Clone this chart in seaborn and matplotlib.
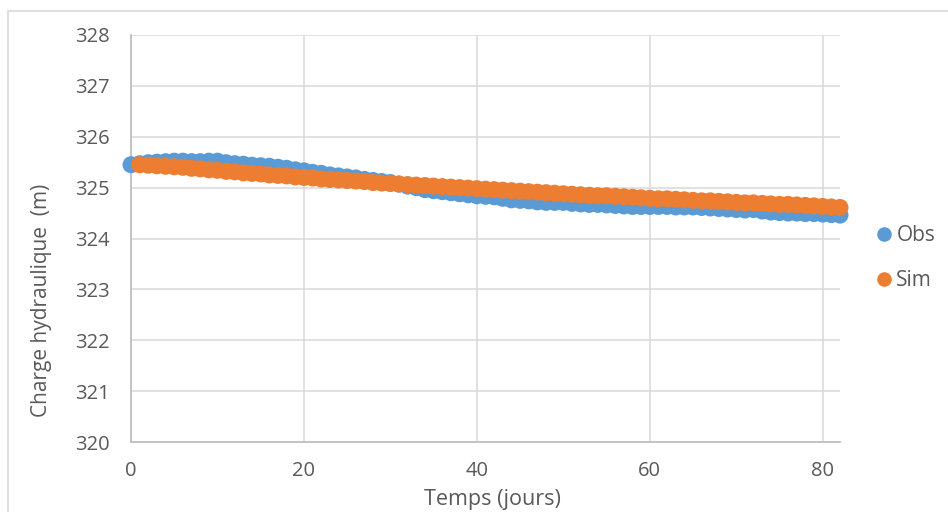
import matplotlib
matplotlib.use("Agg")
import matplotlib.pyplot as plt
import seaborn as sns
import pandas as pd
from matplotlib.patches import Rectangle

# Observed hydraulic head (m), one reading per day
obs_days = list(range(0, 83))
obs_head = [
    325.45, 325.47, 325.49, 325.50, 325.51, 325.52, 325.52, 325.51, 325.51, 325.52,
    325.52, 325.49, 325.47, 325.46, 325.44, 325.43, 325.42, 325.40, 325.38, 325.35,
    325.33, 325.30, 325.28, 325.25, 325.23, 325.21, 325.19, 325.16, 325.14, 325.12,
    325.10, 325.07, 325.03, 325.00, 324.96, 324.94, 324.92, 324.90, 324.88, 324.86,
    324.84, 324.83, 324.82, 324.79, 324.76, 324.75, 324.74, 324.72, 324.71, 324.71,
    324.71, 324.69, 324.68, 324.67, 324.67, 324.66, 324.65, 324.64, 324.63, 324.63,
    324.63, 324.63, 324.63, 324.62, 324.62, 324.62, 324.61, 324.60, 324.59, 324.58,
    324.57, 324.56, 324.57, 324.54, 324.52, 324.51, 324.50, 324.50, 324.49, 324.49,
    324.48, 324.47, 324.46,
]

# Simulated hydraulic head (m)
sim_days = list(range(1, 83))
sim_head = [
    325.45, 325.44, 325.43, 325.42, 325.41, 325.40, 325.38, 325.37, 325.35, 325.34,
    325.32, 325.31, 325.29, 325.28, 325.27, 325.25, 325.24, 325.23, 325.21, 325.20,
    325.19, 325.17, 325.16, 325.15, 325.14, 325.13, 325.12, 325.10, 325.09, 325.08,
    325.07, 325.06, 325.05, 325.04, 325.03, 325.02, 325.01, 325.00, 324.99, 324.98,
    324.97, 324.96, 324.95, 324.94, 324.93, 324.92, 324.91, 324.90, 324.89, 324.88,
    324.87, 324.86, 324.85, 324.84, 324.84, 324.83, 324.82, 324.81, 324.80, 324.79,
    324.78, 324.78, 324.77, 324.76, 324.75, 324.74, 324.74, 324.73, 324.72, 324.71,
    324.70, 324.70, 324.69, 324.68, 324.67, 324.67, 324.66, 324.65, 324.64, 324.63,
    324.62, 324.61,
]

series_names = ["Obs", "Sim"]
series_colors = ["#5B9BD5", "#ED7D31"]
x_ticks = [0, 20, 40, 60, 80]
y_ticks = [320, 321, 322, 323, 324, 325, 326, 327, 328]

df = pd.DataFrame({
    "Temps": obs_days + sim_days,
    "Charge": obs_head + sim_head,
    "Serie": ["Obs"] * len(obs_days) + ["Sim"] * len(sim_days),
})

sns.set_theme(style="white")
plt.rcParams["font.family"] = ["Open Sans", "DejaVu Sans"]

fig = plt.figure(figsize=(9.48, 5.12), dpi=100)
ax = fig.add_axes([131 / 948, 1 - 442 / 512, (840 - 131) / 948, (442 - 35) / 512])

# chart frame
fig.patches.append(Rectangle((8 / 948, -0.1), 1.2, 1 - 11 / 512 + 0.1,
                             transform=fig.transFigure, fill=False,
                             edgecolor="#D9D9D9", linewidth=1.2, zorder=0))

sns.scatterplot(data=df, x="Temps", y="Charge", hue="Serie",
                hue_order=series_names, palette=dict(zip(series_names, series_colors)),
                s=150, linewidth=0, alpha=1, ax=ax, legend=False, zorder=3,
                clip_on=False)

ax.set_xlim(0, 82)
ax.set_ylim(320, 328)
ax.set_xticks(x_ticks)
ax.set_yticks(y_ticks)
ax.grid(True, color="#D9D9D9", linewidth=1.1)
ax.set_axisbelow(True)
for side in ["top", "right"]:
    ax.spines[side].set_visible(False)
for side in ["left", "bottom"]:
    ax.spines[side].set_color("#BFBFBF")
    ax.spines[side].set_linewidth(1.3)

ax.tick_params(axis="y", length=0, labelsize=14.5, labelcolor="#595959", pad=15)
ax.tick_params(axis="x", length=0, labelsize=14.5, labelcolor="#595959", pad=14)
ax.set_xlabel("Temps (jours)", fontsize=15.5, color="#595959")
ax.set_ylabel("Charge hydraulique  (m)", fontsize=15, color="#595959")
ax.xaxis.set_label_coords((492 - 131) / 709, -(499 - 442) / 407)
ax.xaxis.label.set_va("center")
ax.yaxis.set_label_coords((42 - 131) / 709, (442 - 300) / 407)
ax.yaxis.label.set_va("center")

handles = [plt.Line2D([], [], marker="o", linestyle="", markersize=10.5,
                      markerfacecolor=c, markeredgewidth=0) for c in series_colors]
fig.legend(handles, series_names, loc="center left",
           bbox_to_anchor=(863 / 948, 1 - 258 / 512), frameon=False,
           fontsize=15, labelcolor="#595959", handletextpad=0.1,
           labelspacing=1.15, handlelength=1.0, borderpad=0)

fig.savefig("out.png", dpi=100, facecolor="white")
